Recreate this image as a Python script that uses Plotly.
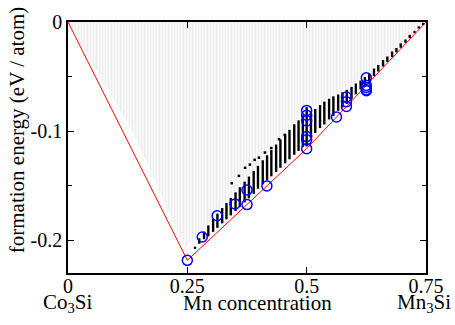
import plotly.graph_objects as go

# Convex hull (ground states)
hull_x = [0.0, 0.25, 0.5, 0.75]
hull_y = [0.0, -0.2184, -0.1161, 0.0]

# Grey cloud of all enumerated structures (outline)
grey_x = [0.0, 0.135, 0.245, 0.27, 0.30, 0.35, 0.40, 0.45, 0.50, 0.55, 0.60, 0.65, 0.70, 0.75, 0.0]
grey_y = [0.0, -0.100, -0.206, -0.198, -0.180, -0.155, -0.130, -0.105, -0.080, -0.070, -0.056, -0.038, -0.019, 0.0, 0.0]

# Low-energy structures: vertical spreads per composition
bar_x = [0.266, 0.275, 0.285, 0.294, 0.304, 0.313, 0.323, 0.332, 0.341, 0.351,
         0.360, 0.370, 0.379, 0.389, 0.398, 0.408, 0.417, 0.426, 0.436, 0.445,
         0.455, 0.464, 0.474, 0.483, 0.492, 0.500, 0.509, 0.518, 0.528, 0.537,
         0.547, 0.556, 0.566, 0.575, 0.584, 0.594, 0.603, 0.613, 0.622, 0.631,
         0.641, 0.650, 0.660, 0.669, 0.679, 0.688, 0.697, 0.707, 0.716, 0.726,
         0.735, 0.744]
bar_lo = [-0.2079, -0.2032, -0.1991, -0.1964, -0.1923, -0.1886, -0.1845, -0.1808, -0.1772, -0.1731,
          -0.1694, -0.1653, -0.1616, -0.1575, -0.1528, -0.1487, -0.1451, -0.1414, -0.1373, -0.1336,
          -0.1295, -0.1258, -0.1217, -0.1181, -0.1144, -0.1141, -0.1059, -0.1017, -0.0971, -0.0939,
          -0.0893, -0.0861, -0.0814, -0.0783, -0.0751, -0.0704, -0.0663, -0.0616, -0.0584, -0.0543,
          -0.0496, -0.0454, -0.0408, -0.0366, -0.0320, -0.0278, -0.0236, -0.0190, -0.0148, -0.0101,
          -0.0060, -0.0028]
bar_hi = [-0.2059, -0.1982, -0.1921, -0.1864, -0.1803, -0.1756, -0.1705, -0.1658, -0.1612, -0.1561,
          -0.1514, -0.1463, -0.1416, -0.1365, -0.1318, -0.1267, -0.1221, -0.1174, -0.1123, -0.1076,
          -0.1025, -0.0988, -0.0937, -0.0901, -0.0854, -0.0781, -0.0839, -0.0797, -0.0761, -0.0729,
          -0.0703, -0.0681, -0.0664, -0.0643, -0.0621, -0.0594, -0.0563, -0.0536, -0.0504, -0.0473,
          -0.0426, -0.0394, -0.0348, -0.0316, -0.0270, -0.0238, -0.0196, -0.0160, -0.0118, -0.0081,
          -0.0040, -0.0008]

# Sparse low-energy points above the band
sparse_x = [0.343, 0.358, 0.371, 0.381, 0.391, 0.400, 0.4125, 0.426, 0.442, 0.454]
sparse_y = [-0.1477, -0.141, -0.1336, -0.1307, -0.1263, -0.1243, -0.1196, -0.1155, -0.1073, -0.1035]

# Structures computed with DFT (blue circles)
dft_x = [0.25, 0.2813, 0.3125, 0.35, 0.375, 0.375, 0.4167,
         0.5, 0.5, 0.5, 0.5, 0.5, 0.5,
         0.5625, 0.5833, 0.5833, 0.5833,
         0.625, 0.625, 0.625, 0.625, 0.625]
dft_y = [-0.2184, -0.197, -0.1775, -0.1667, -0.154, -0.1673, -0.1502,
         -0.081, -0.0854, -0.0906, -0.105, -0.108, -0.1161,
         -0.0871, -0.0687, -0.073, -0.0774,
         -0.0512, -0.0581, -0.060, -0.062, -0.063]

x_ticks = [0, 0.25, 0.5, 0.75]
x_ticktext = ["0", "0.25", "0.5", "0.75"]
y_ticks = [0, -0.1, -0.2]
y_ticktext = ["0", "-0.1", "-0.2"]

seg_x, seg_y = [], []
for x, lo, hi in zip(bar_x, bar_lo, bar_hi):
    seg_x += [x, x, None]
    seg_y += [lo, hi, None]

FONT = "Liberation Serif"

fig = go.Figure()
fig.add_trace(go.Scatter(
    x=grey_x, y=grey_y, mode="lines", fill="toself",
    line=dict(width=0), fillcolor="white",
    fillpattern=dict(shape="|", fgcolor="#d9d9d9", bgcolor="white", size=3, solidity=0.6),
    hoverinfo="skip"))
fig.add_trace(go.Scatter(x=hull_x, y=hull_y, mode="lines",
                         line=dict(color="#ff0000", width=1)))
fig.add_trace(go.Scatter(x=seg_x, y=seg_y, mode="lines",
                         line=dict(color="black", width=2.4)))
fig.add_trace(go.Scatter(x=sparse_x, y=sparse_y, mode="markers",
                         marker=dict(color="black", size=2.5, symbol="square")))
fig.add_trace(go.Scatter(x=dft_x, y=dft_y, mode="markers",
                         marker=dict(symbol="circle-open", size=10, color="#0000ff",
                                     line=dict(width=1.5, color="#0000ff"))))

axis_common = dict(showline=True, linecolor="black", linewidth=1.5, mirror="ticks",
                   ticks="inside", ticklen=6, tickwidth=1, tickcolor="black",
                   showgrid=False, zeroline=False,
                   tickfont=dict(family=FONT, size=20, color="black"))

fig.update_xaxes(range=[0, 0.75], tickvals=x_ticks, ticktext=x_ticktext,
                 ticklabelstandoff=-6, **axis_common)
fig.update_yaxes(range=[-0.23, 0], tickvals=y_ticks, ticktext=y_ticktext,
                 minor=dict(dtick=0.05, tick0=0, ticks="inside", ticklen=4, tickcolor="black"),
                 **axis_common)

ann_font = dict(family=FONT, size=21, color="black")
fig.update_layout(
    width=455, height=325,
    margin=dict(l=68, r=27, t=11, b=52),
    plot_bgcolor="white", paper_bgcolor="white",
    showlegend=False,
    font=dict(family=FONT, color="black"),
    annotations=[
        dict(text="Co<sub>3</sub>Si", x=0.0, y=-0.118, xref="x", yref="paper",
             showarrow=False, xanchor="center", yanchor="middle", font=ann_font),
        dict(text="Mn concentration", x=0.397, y=-0.118, xref="x", yref="paper",
             showarrow=False, xanchor="center", yanchor="middle", font=ann_font),
        dict(text="Mn<sub>3</sub>Si", x=0.745, y=-0.118, xref="x", yref="paper",
             showarrow=False, xanchor="center", yanchor="middle", font=ann_font),
        dict(text="formation energy (eV / atom)", x=-0.1417, y=0.57, xref="paper", yref="paper",
             showarrow=False, xanchor="center", yanchor="middle", textangle=-90,
             font=dict(family=FONT, size=21, color="black")),
    ],
)

fig.write_html("out.html", config={"displayModeBar": False},
               post_script="document.body.style.margin='0';document.body.style.overflow='hidden';")
